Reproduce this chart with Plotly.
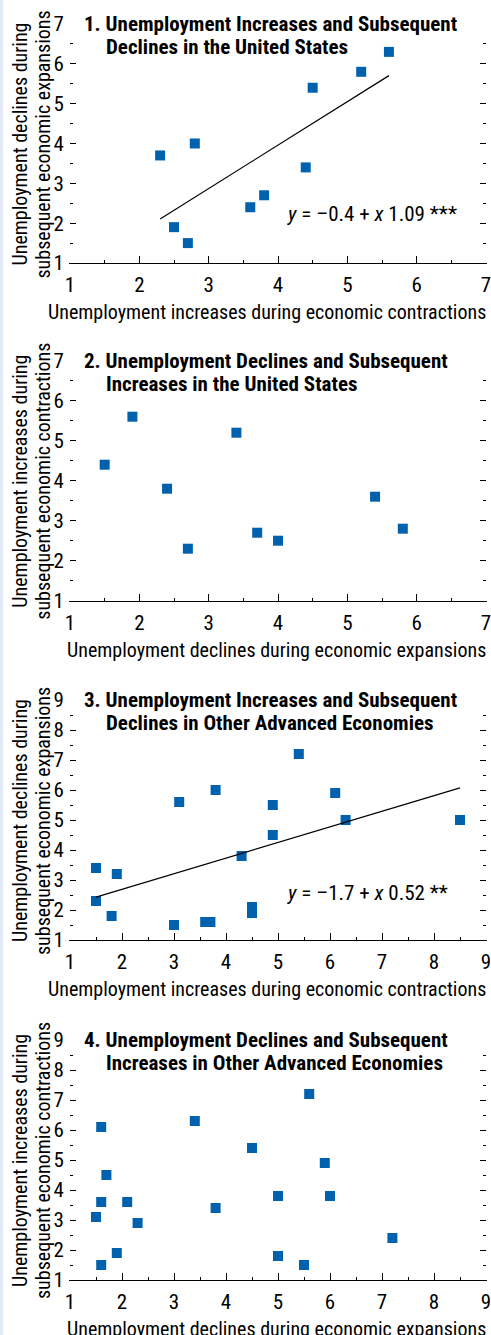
import plotly.graph_objects as go

# ---------------- data ----------------
p1_x = [2.3, 2.8, 2.5, 2.7, 3.6, 3.8, 4.4, 4.5, 5.2, 5.6]
p1_y = [3.7, 4.0, 1.9, 1.5, 2.4, 2.7, 3.4, 5.4, 5.8, 6.3]
p1_fit = (-0.4, 1.09)
p1_eq = "<i>y</i> = \u20130.4 + <i>x</i> 1.09 ***"

p2_x = [1.5, 1.9, 2.4, 2.7, 3.4, 3.7, 4.0, 5.4, 5.8]
p2_y = [4.4, 5.6, 3.8, 2.3, 5.2, 2.7, 2.5, 3.6, 2.8]

p3_x = [1.5, 1.5, 1.9, 1.8, 3.0, 3.1, 3.6, 3.7, 3.8, 4.3, 4.5, 4.5, 4.9, 4.9, 5.4, 6.1, 6.3, 8.5]
p3_y = [3.4, 2.3, 3.2, 1.8, 1.5, 5.6, 1.6, 1.6, 6.0, 3.8, 2.1, 1.9, 5.5, 4.5, 7.2, 5.9, 5.0, 5.0]
p3_fit = (1.65, 0.52)
p3_eq = "<i>y</i> = \u20131.7 + <i>x</i> 0.52 **"

p4_x = [1.6, 1.7, 1.6, 1.5, 2.1, 2.3, 1.9, 1.6, 3.4, 3.8, 4.5, 5.0, 5.0, 5.5, 5.6, 5.9, 6.0, 7.2]
p4_y = [6.1, 4.5, 3.6, 3.1, 3.6, 2.9, 1.9, 1.5, 6.3, 3.4, 5.4, 3.8, 1.8, 1.5, 7.2, 4.9, 3.8, 2.4]

titles = [
    ("1. Unemployment Increases and Subsequent", "Declines in the United States"),
    ("2. Unemployment Declines and Subsequent", "Increases in the United States"),
    ("3. Unemployment Increases and Subsequent", "Declines in Other Advanced Economies"),
    ("4. Unemployment Declines and Subsequent", "Increases in Other Advanced Economies"),
]
x_titles = [
    "Unemployment increases during economic contractions",
    "Unemployment declines during economic expansions",
    "Unemployment increases during economic contractions",
    "Unemployment declines during economic expansions",
]
y_titles = [
    ("Unemployment declines during", "subsequent economic expansions"),
    ("Unemployment increases during", "subsequent economic contractions"),
    ("Unemployment declines during", "subsequent economic expansions"),
    ("Unemployment increases during", "subsequent economic contractions"),
]
axis_max = [7, 7, 9, 9]

# ---------------- layout geometry (pixels) ----------------
W, H = 491, 1335
LEFT, RIGHT = 70, 486
panels_px = [(24, 263), (360.7, 600.7), (700, 940), (1040, 1280)]

FONT = "Roboto Condensed, DejaVu Sans Condensed, sans-serif"
BLUE = "#0061AE"

def px(x):
    return x / W

def py(y):
    return 1 - y / H

fig = go.Figure()

series = [(p1_x, p1_y, p1_fit, p1_eq), (p2_x, p2_y, None, None),
          (p3_x, p3_y, p3_fit, p3_eq), (p4_x, p4_y, None, None)]

annotations = []
for i, (xs, ys, fit, eq) in enumerate(series):
    n = "" if i == 0 else str(i + 1)
    xa, ya = "x" + n, "y" + n
    fig.add_trace(go.Scatter(x=xs, y=ys, mode="markers", xaxis=xa, yaxis=ya,
                             marker=dict(symbol="square", size=10, color=BLUE,
                                         line=dict(width=0)),
                             showlegend=False, hoverinfo="skip", cliponaxis=False))
    if fit is not None:
        lx = [min(xs), max(xs)]
        ly = [fit[0] + fit[1] * v for v in lx]
        fig.add_trace(go.Scatter(x=lx, y=ly, mode="lines", xaxis=xa, yaxis=ya,
                                 line=dict(color="black", width=1.2),
                                 showlegend=False, hoverinfo="skip"))
    top, bot = panels_px[i]
    m = axis_max[i]
    common = dict(showgrid=False, zeroline=False, automargin=False,
                  tickfont=dict(family=FONT, size=21, color="black"),
                  ticks="inside", tickcolor="black", tickwidth=1,
                  range=[1, m], dtick=1, tick0=1, fixedrange=True,
                  ticklabeloverflow="allow")
    fig.layout["xaxis" + n] = dict(
        common, domain=[px(LEFT), px(RIGHT)], anchor=ya,
        showline=True, linecolor="black", linewidth=1.2, ticklen=7,
        minor=dict(ticks="inside", ticklen=3, dtick=0.5, tick0=1,
                   tickcolor="black", tickwidth=1),
        ticklabelstandoff=3)
    fig.layout["yaxis" + n] = dict(
        common, domain=[py(bot), py(top)], anchor=xa,
        showline=True, linecolor="rgba(0,0,0,0)", ticklen=6, mirror="ticks",
        minor=dict(ticks="inside", ticklen=3, dtick=0.5, tick0=1,
                   tickcolor="black", tickwidth=1),
        ticklabelstandoff=1)

    # panel title (hanging indent)
    l1, l2 = titles[i]
    annotations.append(dict(xref="paper", yref="paper", x=px(82), y=py(top),
                            xanchor="left", yanchor="middle", showarrow=False,
                            text="<b>" + l1 + "</b>",
                            font=dict(family=FONT, size=21, color="black")))
    annotations.append(dict(xref="paper", yref="paper", x=px(104), y=py(top + 23),
                            xanchor="left", yanchor="middle", showarrow=False,
                            text="<b>" + l2 + "</b>",
                            font=dict(family=FONT, size=21, color="black")))
    # x axis title
    annotations.append(dict(xref="paper", yref="paper", x=px(488), y=py(bot + 49),
                            xanchor="right", yanchor="middle", showarrow=False,
                            text=x_titles[i],
                            font=dict(family=FONT, size=20, color="black")))
    # y axis title (two lines)
    yl1, yl2 = y_titles[i]
    for txt, cx in ((yl1, 20), (yl2, 43)):
        annotations.append(dict(xref="paper", yref="paper", x=px(cx), y=py((top + bot) / 2 + 1),
                                xanchor="center", yanchor="middle", showarrow=False,
                                textangle=-90, text=txt,
                                font=dict(family=FONT, size=20, color="black")))
    if eq is not None:
        eq_y = {0: 214, 2: 893}[i]
        annotations.append(dict(xref="paper", yref="paper", x=px(285), y=py(eq_y),
                                xanchor="left", yanchor="middle", showarrow=False,
                                text=eq,
                                font=dict(family=FONT, size=21, color="black")))

fig.update_layout(
    width=W, height=H, autosize=False,
    margin=dict(l=0, r=0, t=0, b=0, pad=0),
    paper_bgcolor="white", plot_bgcolor="white",
    annotations=annotations,
    shapes=[dict(type="rect", xref="paper", yref="paper", x0=0, x1=px(3), y0=0, y1=1,
                 fillcolor="#E3ECF6", line=dict(width=0), layer="below")],
)

fig.write_html("out.html", config={"displayModeBar": False},
               post_script="document.body.style.margin='0';")
